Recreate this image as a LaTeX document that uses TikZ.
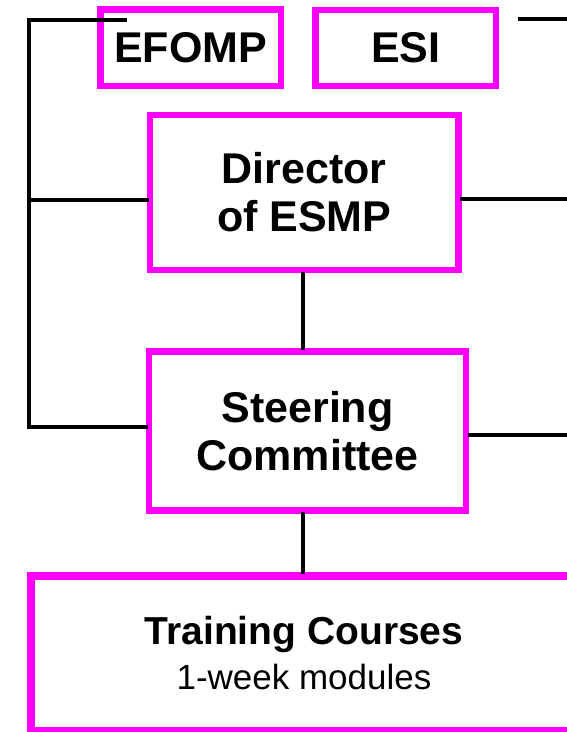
\documentclass[tikz,border=0pt]{standalone}
\usepackage{fontspec}
\setmainfont{Liberation Sans}
\begin{document}
\begin{tikzpicture}[x=1pt,y=-1pt,
  box/.style={draw=mag, line width=6.5pt, inner sep=0pt, align=center,
    font=\bfseries\fontsize{43}{48}\selectfont},
  wire/.style={draw=black, line width=3.5pt, line cap=rect}]
\definecolor{mag}{RGB}{255,0,255}
\useasboundingbox (0,0) rectangle (567,732);
\clip (0,0) rectangle (567,732);
% boxes
\node[box, minimum width=180.5pt, minimum height=76.5pt] (efomp) at (190.75,47.75) {EFOMP};
\node[box, minimum width=180.5pt, minimum height=76pt] (esi) at (405.75,48) {ESI};
\node[box, minimum width=308.5pt, minimum height=155pt] (dir) at (304.25,192.5) {Director\\of ESMP};
\node[box, minimum width=317pt, minimum height=159pt] (steer) at (307.5,431) {Steering\\Committee};
\node[box, line width=8pt, minimum width=546pt, minimum height=154.5pt,
  font=\bfseries\fontsize{39}{45}\selectfont] (train) at (304,653.25)
  {Training Courses\\{\mdseries\fontsize{35}{45}\selectfont 1-week modules}};
% coordinates
\coordinate (bustop) at (29,20);
\coordinate (stub) at (125,20);
\coordinate (busmid) at (29,200);
\coordinate (busbot) at (29,427);
\coordinate (dv) at (303,0);
\coordinate (r1s) at (520,19);
\coordinate (r1e) at (570,19);
\coordinate (r2) at (570,199);
\coordinate (r3) at (570,435);
% connectors
\draw[wire] (stub) -- (bustop) -- (busbot) -- (busbot -| steer.west);
\draw[wire] (busmid) -- (busmid -| dir.west);
\draw[wire] (dir.south -| dv) -- (steer.north -| dv);
\draw[wire] (steer.south -| dv) -- (train.north -| dv);
\draw[wire] (r1s) -- (r1e);
\draw[wire] (r2 -| dir.east) -- (r2);
\draw[wire] (r3 -| steer.east) -- (r3);
\end{tikzpicture}
\end{document}
